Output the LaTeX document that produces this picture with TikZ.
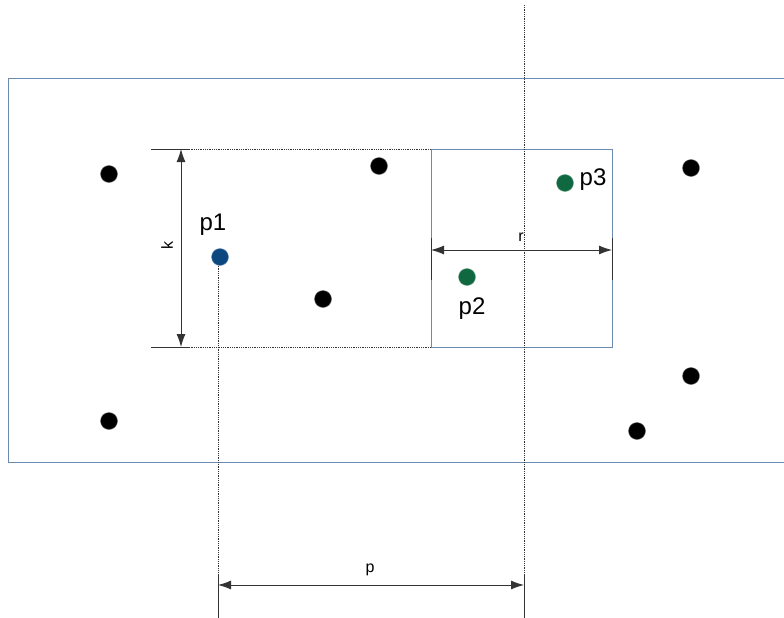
\documentclass[tikz,border=0pt]{standalone}
\usepackage{fontspec}
\setmainfont{Liberation Sans}
\usetikzlibrary{arrows.meta, positioning}

\definecolor{framecol}{RGB}{108,138,176}
\definecolor{p1col}{RGB}{12,72,128}
\definecolor{pcol}{RGB}{16,104,64}

\begin{document}
\begin{tikzpicture}[
    x=1pt, y=-1pt,
    dot/.style={circle, fill=black, draw=black!60, line width=0.4pt, minimum size=17pt, inner sep=0pt},
    frame/.style={draw=framecol, line width=1pt},
    guide/.style={densely dotted, line width=0.8pt, draw=black!80},
    tick/.style={line width=0.9pt, draw=black!80},
    dim/.style={{Latex[length=13pt,width=9pt]}-{Latex[length=13pt,width=9pt]}, line width=0.9pt, draw=black!80},
    lbl/.style={font=\fontsize{24}{24}\selectfont, inner sep=0pt},
    small/.style={font=\fontsize{16}{16}\selectfont, inner sep=0pt}
]
\useasboundingbox (0,0) rectangle (784,618);
\begin{scope}
\clip (0,0) rectangle (784,618);

% outer strip and search window
\draw[frame] (8,78) rectangle (800,462);
\draw[frame] (431,149) rectangle (612,347);

% points
\node[dot] (a1) at (109,174) {};
\node[dot] (a2) at (379,166) {};
\node[dot] (a3) at (323,299) {};
\node[dot] (a4) at (109,421) {};
\node[dot] (a5) at (691,168) {};
\node[dot] (a6) at (691,376) {};
\node[dot] (a7) at (637,431) {};
\node[dot, fill=p1col, draw=p1col!60] (p1) at (220,257) {};
\node[dot, fill=pcol, draw=pcol!60] (p2) at (467,277) {};
\node[dot, fill=pcol, draw=pcol!60] (p3) at (565,183) {};

\node[lbl] (p1l) at (213,225) {p1};
\node[lbl] (p2l) at (472,309) {p2};
\node[lbl] (p3l) at (593,180) {p3};

% reference lines
\coordinate (ktop) at (151,149);
\coordinate (kbot) at (151,347);
\coordinate (ktopend) at (431,149);
\coordinate (kbotend) at (431,347);
\coordinate (midtop) at (524,5);
\coordinate (midbot) at (524,618);
\coordinate (p1bot) at (218,618);
\draw[guide] (ktop) -- (ktopend);
\draw[guide] (kbot) -- (kbotend);
\draw[tick] (ktop) -- ++(39,0);
\draw[tick] (kbot) -- ++(39,0);
\draw[guide] (midtop) -- (midbot);
\draw[guide] (p1.south -| p1bot) -- (p1bot);

% dimension k
\coordinate (ka) at (181,149);
\coordinate (kb) at (181,347);
\draw[dim] (ka) -- (kb);
\node[small, rotate=90] (k) at (167,245) {k};

% dimension r
\coordinate (ra) at (431,250);
\coordinate (rb) at (612,250);
\draw[tick] (431,238) -- (431,280);
\draw[tick] (612,238) -- (612,280);
\draw[dim] (ra) -- (rb);
\node[small] (r) at (521,237) {r};

% dimension p
\coordinate (pa) at (218,585);
\coordinate (pb) at (524,585);
\draw[tick] (218,575) -- (218,618);
\draw[tick] (524,575) -- (524,618);
\draw[dim] (pa) -- (pb);
\node[small] (p) at (370,570) {p};
\end{scope}
\end{tikzpicture}
\end{document}
